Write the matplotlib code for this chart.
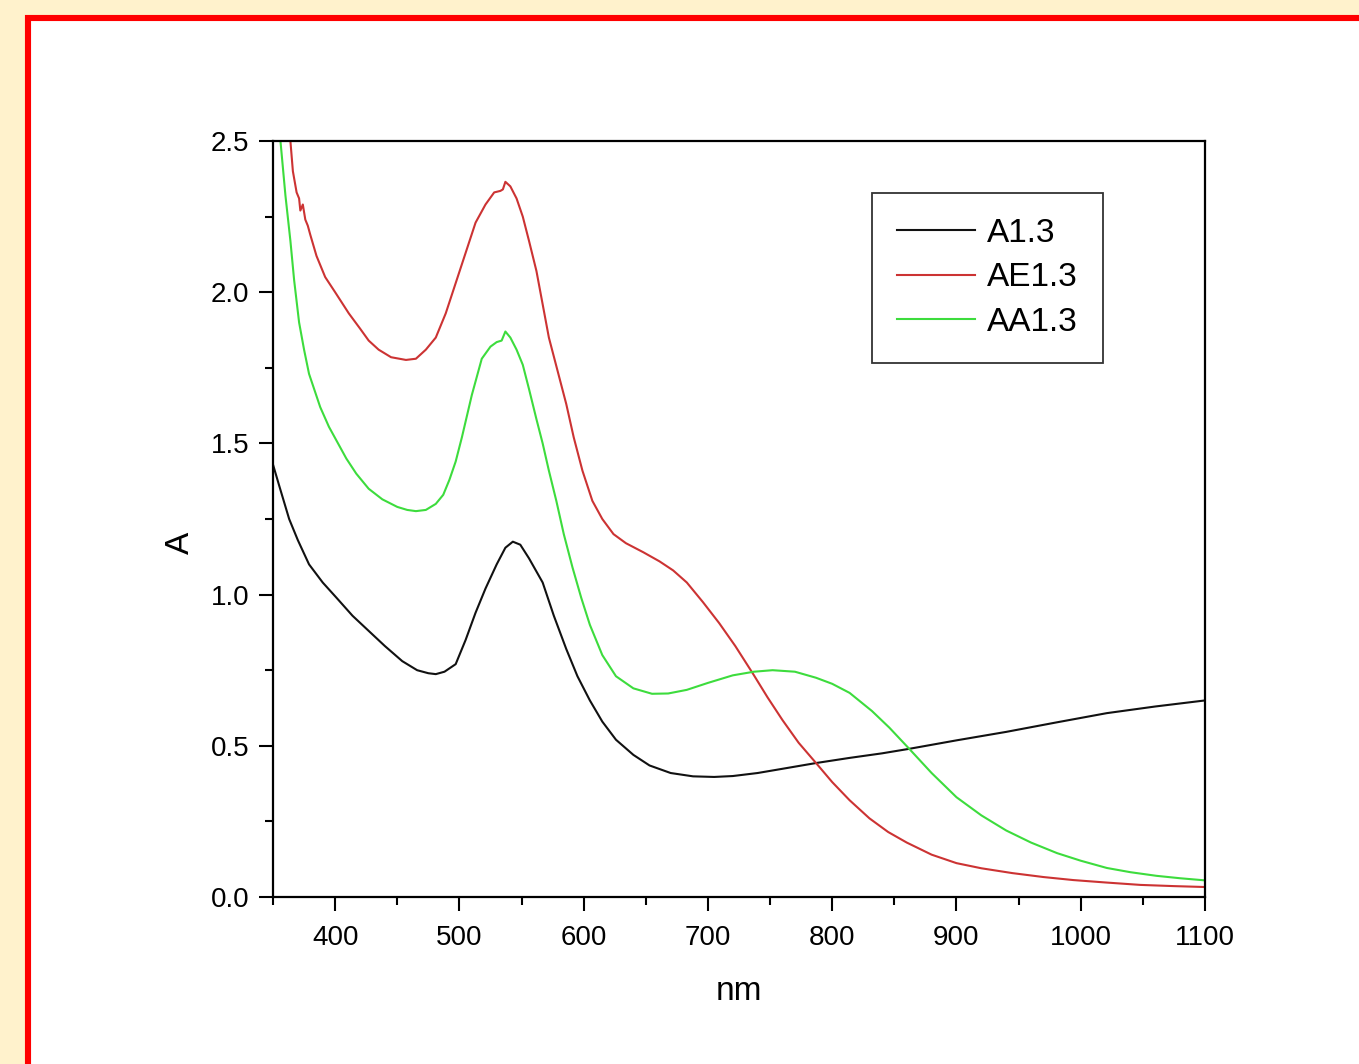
import matplotlib.pyplot as plt
from matplotlib.patches import Rectangle
from matplotlib.ticker import MultipleLocator, FormatStrFormatter

plt.rcParams['font.family'] = ['Liberation Sans', 'DejaVu Sans']

# A1.3 (black)
nm_a = [350, 355, 363, 370, 379, 390, 401, 414, 427, 440, 454, 466, 475, 481,
        488, 497, 505, 513, 521, 530, 537, 543, 549, 556, 567, 576, 586, 595,
        605, 615, 626, 640, 653, 670, 688, 705, 720, 740, 760, 787, 814, 840,
        862, 900, 940, 980, 1021, 1060, 1100]
abs_a = [1.43, 1.36, 1.25, 1.18, 1.10, 1.04, 0.99, 0.93, 0.88, 0.83, 0.78, 0.75,
         0.74, 0.737, 0.745, 0.77, 0.85, 0.94, 1.02, 1.10, 1.155, 1.175, 1.165,
         1.12, 1.04, 0.93, 0.82, 0.73, 0.65, 0.58, 0.52, 0.47, 0.435, 0.41,
         0.399, 0.397, 0.40, 0.41, 0.424, 0.443, 0.46, 0.475, 0.49, 0.518,
         0.546, 0.577, 0.608, 0.63, 0.65]

# AE1.3 (red)
nm_ae = [364, 366, 369, 371, 372, 374, 376, 378, 380, 385, 392, 400, 411, 420,
         427, 435, 445, 457, 465, 473, 481, 489, 497, 505, 513, 521, 528, 533,
         535, 537, 541, 546, 551, 556, 562, 567, 572, 579, 586, 592, 599, 607,
         615, 624, 634, 648, 661, 672, 683, 696, 709, 722, 736, 748, 760, 773,
         787, 800, 814, 830, 845, 860, 880, 900, 920, 945, 970, 994, 1020, 1048,
         1075, 1100]
abs_ae = [2.50, 2.40, 2.33, 2.31, 2.27, 2.29, 2.24, 2.22, 2.19, 2.12, 2.05,
          2.00, 1.93, 1.88, 1.84, 1.81, 1.785, 1.776, 1.78, 1.81, 1.85, 1.93,
          2.03, 2.13, 2.23, 2.29, 2.33, 2.335, 2.34, 2.365, 2.35, 2.31, 2.25,
          2.17, 2.07, 1.96, 1.85, 1.74, 1.63, 1.52, 1.41, 1.31, 1.25, 1.20,
          1.17, 1.14, 1.11, 1.08, 1.04, 0.975, 0.906, 0.83, 0.74, 0.66, 0.585,
          0.51, 0.443, 0.38, 0.32, 0.26, 0.215, 0.18, 0.14, 0.112, 0.095,
          0.079, 0.066, 0.056, 0.048, 0.04, 0.036, 0.033]

# AA1.3 (green)
nm_aa = [356, 360, 364, 367, 371, 375, 379, 388, 395, 401, 409, 417, 427, 438,
         450, 458, 465, 473, 481, 487, 492, 497, 502, 510, 518, 525, 530, 534,
         537, 541, 546, 551, 556, 562, 567, 572, 578, 584, 591, 598, 605, 615,
         626, 640, 655, 668, 683, 700, 720, 737, 752, 770, 787, 800, 814, 832,
         846, 862, 880, 900, 920, 940, 960, 981, 1000, 1021, 1040, 1061, 1080,
         1100]
abs_aa = [2.50, 2.32, 2.17, 2.04, 1.90, 1.81, 1.73, 1.62, 1.555, 1.51, 1.45,
          1.40, 1.35, 1.315, 1.29, 1.28, 1.276, 1.28, 1.30, 1.33, 1.38, 1.44,
          1.52, 1.66, 1.78, 1.82, 1.835, 1.84, 1.87, 1.85, 1.81, 1.76, 1.68,
          1.58, 1.50, 1.41, 1.31, 1.20, 1.09, 0.99, 0.90, 0.80, 0.73, 0.69,
          0.672, 0.673, 0.685, 0.708, 0.733, 0.745, 0.75, 0.745, 0.725, 0.705,
          0.675, 0.615, 0.56, 0.49, 0.41, 0.33, 0.27, 0.22, 0.18, 0.145, 0.12,
          0.096, 0.082, 0.07, 0.062, 0.055]

fig = plt.figure(figsize=(13.59, 10.64), dpi=100, facecolor='#fff2cc')

# red frame around the white card
frame = Rectangle((27.5 / 1359, -0.05), 1.1, 1 - 17.5 / 1064 + 0.05,
                  transform=fig.transFigure, facecolor='white',
                  edgecolor='#ff0000', linewidth=4.4, zorder=-10)
fig.patches.append(frame)

ax = fig.add_axes([273 / 1359, 1 - 897 / 1064, 932 / 1359, 756 / 1064])
ax.plot(nm_a, abs_a, color='#111111', lw=1.5, label='A1.3')
ax.plot(nm_ae, abs_ae, color='#cc3333', lw=1.5, label='AE1.3')
ax.plot(nm_aa, abs_aa, color='#3ddc3d', lw=1.5, label='AA1.3')

ax.set_xlim(350, 1100)
ax.set_ylim(0, 2.5)
ax.xaxis.set_major_locator(MultipleLocator(100))
ax.xaxis.set_minor_locator(MultipleLocator(50))
ax.yaxis.set_major_locator(MultipleLocator(0.5))
ax.yaxis.set_minor_locator(MultipleLocator(0.25))
ax.yaxis.set_major_formatter(FormatStrFormatter('%.1f'))

for s in ax.spines.values():
    s.set_linewidth(1.6)
ax.tick_params(which='major', direction='out', length=10, width=1.5,
               labelsize=20, pad=7)
ax.tick_params(axis='x', which='major', pad=10)
ax.tick_params(which='minor', direction='out', length=5.5, width=1.5)

ax.set_xlabel('nm', fontsize=24)
ax.set_ylabel('A', fontsize=24)
ax.xaxis.label.set_va('center')
ax.yaxis.label.set_va('center')
ax.xaxis.set_label_coords(0.5, (897 - 992) / 756)
ax.yaxis.set_label_coords((180 - 273) / 932, (897 - 543) / 756)

leg = ax.legend(loc='upper right', bbox_to_anchor=((1103 - 273) / 932, (897 - 193) / 756),
                borderaxespad=0, fontsize=24, frameon=True, fancybox=False,
                edgecolor='black', handlelength=2.35, handletextpad=0.36,
                labelspacing=0.4, borderpad=0.75)
leg.get_frame().set_linewidth(1.3)

fig.savefig('out.png', dpi=100, facecolor=fig.get_facecolor())
